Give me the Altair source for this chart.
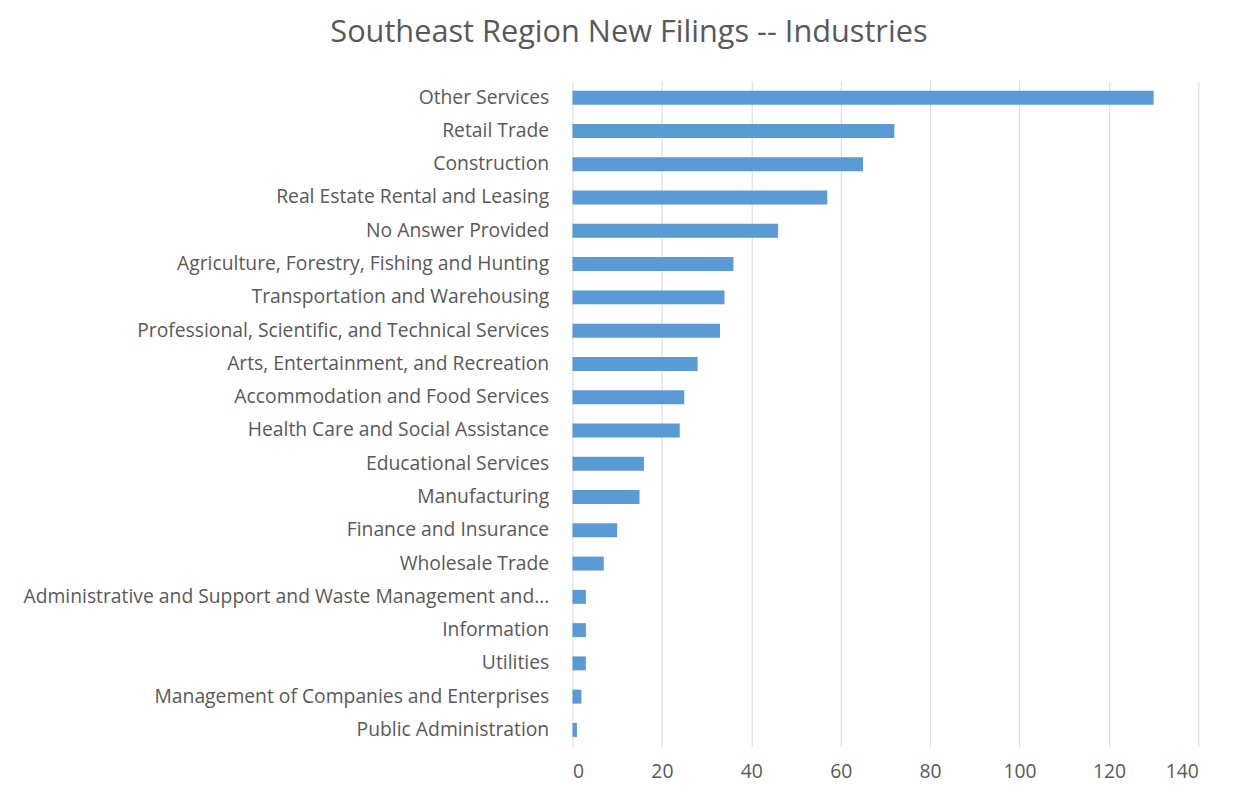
import altair as alt
import pandas as pd

industries = [
    "Other Services",
    "Retail Trade",
    "Construction",
    "Real Estate Rental and Leasing",
    "No Answer Provided",
    "Agriculture, Forestry, Fishing and Hunting",
    "Transportation and Warehousing",
    "Professional, Scientific, and Technical Services",
    "Arts, Entertainment, and Recreation",
    "Accommodation and Food Services",
    "Health Care and Social Assistance",
    "Educational Services",
    "Manufacturing",
    "Finance and Insurance",
    "Wholesale Trade",
    "Administrative and Support and Waste Management and Remediation Services",
    "Information",
    "Utilities",
    "Management of Companies and Enterprises",
    "Public Administration",
]
filings = [130, 72, 65, 57, 46, 36, 34, 33, 28, 25, 24, 16, 15, 10, 7, 3, 3, 3, 2, 1]
x_ticks = [0, 20, 40, 60, 80, 100, 120, 140]

df = pd.DataFrame({"industry": industries, "filings": filings})

FONT = "Open Sans"
GRAY = "#595959"

chart = (
    alt.Chart(df)
    .mark_bar(color="#5B9BD5")
    .encode(
        x=alt.X(
            "filings:Q",
            scale=alt.Scale(domain=[0, 140], nice=False),
            axis=alt.Axis(
                values=x_ticks,
                title=None,
                domain=False,
                ticks=False,
                grid=True,
                gridColor="#d9d9d9",
                gridWidth=1,
                labelFont=FONT,
                labelFontSize=19.5,
                labelColor=GRAY,
                labelPadding=16,
            ),
        ),
        y=alt.Y(
            "industry:N",
            sort=industries,
            scale=alt.Scale(paddingInner=0.58, paddingOuter=0.29),
            axis=alt.Axis(
                title=None,
                domain=False,
                ticks=False,
                labelFont=FONT,
                labelFontSize=19.5,
                labelColor=GRAY,
                labelPadding=24,
                labelLimit=532,
            ),
        ),
        tooltip=["industry", "filings"],
    )
    .properties(
        width=632,
        height=672,
        autosize=alt.AutoSizeParams(type="none"),
        padding={"left": 570, "top": 70, "right": 35, "bottom": 35},
        title=alt.TitleParams(
            "Southeast Region New Filings -- Industries",
            font=FONT,
            fontSize=31,
            fontWeight="normal",
            color=GRAY,
            anchor="middle",
            dx=-259,
            offset=32,
        ),
    )
    .configure_view(stroke=None)
)

chart.save("out.html", embed_options={"renderer": "svg", "actions": False})
